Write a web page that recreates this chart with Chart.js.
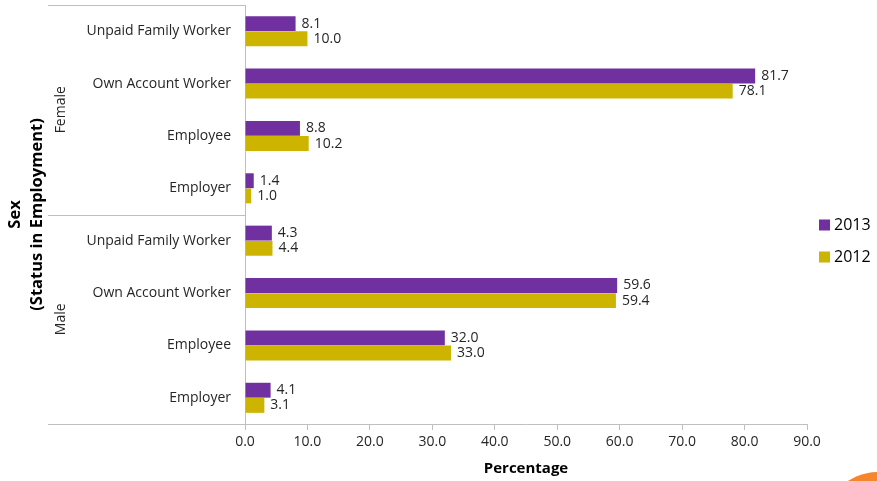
<!DOCTYPE html>
<html>
<head>
<meta charset="utf-8">
<script src="https://cdn.jsdelivr.net/npm/chart.js@4"></script>
<style>
  html, body { margin: 0; padding: 0; background: #fff; overflow: hidden; }
  #wrap { width: 877px; height: 481px; position: relative; }
</style>
</head>
<body>
<div id="wrap"><canvas id="empChart" width="877" height="481"></canvas></div>
<script>
// datos del grafico
const categories = ['Unpaid Family Worker', 'Own Account Worker', 'Employee', 'Employer',
                    'Unpaid Family Worker', 'Own Account Worker', 'Employee', 'Employer'];
const groups = ['Female', 'Male'];
const series2013 = [8.1, 81.7, 8.8, 1.4, 4.3, 59.6, 32.0, 4.1];
const series2012 = [10.0, 78.1, 10.2, 1.0, 4.4, 59.4, 33.0, 3.1];
const xTicks = [0, 10, 20, 30, 40, 50, 60, 70, 80, 90];

const FONT = "'Open Sans', 'DejaVu Sans', sans-serif";
const lineColor = '#bfbfbf';

// etiquetas, grupos, leyenda
const extras = {
  id: 'extras',
  afterDatasetsDraw(chart) {
    const ctx = chart.ctx;
    ctx.save();
    ctx.font = '14px ' + FONT;
    ctx.fillStyle = '#262626';
    ctx.textAlign = 'left';
    ctx.textBaseline = 'middle';
    chart.data.datasets.forEach((ds, i) => {
      chart.getDatasetMeta(i).data.forEach((bar, j) => {
        ctx.fillText(ds.data[j].toFixed(1), bar.x + 6, bar.y);
      });
    });
    ctx.restore();
  },
  afterDraw(chart) {
    const ctx = chart.ctx;
    const area = chart.chartArea;
    const y = chart.scales.y;
    const x0 = 48;
    const sep = (y.getPixelForValue(3) + y.getPixelForValue(4)) / 2;
    ctx.save();
    ctx.strokeStyle = lineColor;
    ctx.lineWidth = 1;
    [area.top, sep, area.bottom].forEach(py => {
      ctx.beginPath();
      ctx.moveTo(x0, Math.round(py) + 0.5);
      ctx.lineTo(area.left, Math.round(py) + 0.5);
      ctx.stroke();
    });

    // Female / Male
    ctx.fillStyle = '#262626';
    ctx.font = '14px ' + FONT;
    ctx.textAlign = 'center';
    ctx.textBaseline = 'middle';
    const mids = [(area.top + sep) / 2, (sep + area.bottom) / 2];
    groups.forEach((g, i) => {
      ctx.save();
      ctx.translate(61, mids[i]);
      ctx.rotate(-Math.PI / 2);
      ctx.fillText(g, 0, 0);
      ctx.restore();
    });

    // titulo eje y
    ctx.fillStyle = '#000';
    ctx.font = 'bold 16.5px ' + FONT;
    const cy = (area.top + area.bottom) / 2;
    [['Sex', 15], ['(Status in Employment)', 37]].forEach(([t, px]) => {
      ctx.save();
      ctx.translate(px, cy);
      ctx.rotate(-Math.PI / 2);
      ctx.fillText(t, 0, 0);
      ctx.restore();
    });

    // leyenda
    ctx.font = '16px ' + FONT;
    ctx.textAlign = 'left';
    const lx = area.right + 12;
    const ly = chart.height / 2 - 16;
    chart.data.datasets.forEach((ds, i) => {
      const yy = ly + i * 32;
      ctx.fillStyle = ds.backgroundColor;
      ctx.fillRect(lx, yy - 5, 11, 11);
      ctx.fillStyle = '#000';
      ctx.fillText(ds.label, lx + 15, yy + 1);
    });

    // circulo naranja
    ctx.fillStyle = '#f5862e';
    ctx.beginPath();
    ctx.arc(878, 527, 55, 0, Math.PI * 2);
    ctx.fill();
    ctx.restore();
  }
};

document.addEventListener('DOMContentLoaded', () => {
  const ctx = document.getElementById('empChart').getContext('2d');
  new Chart(ctx, {
    type: 'bar',
    data: {
      labels: categories,
      datasets: [
        { label: '2013', data: series2013, backgroundColor: '#7030a0' },
        { label: '2012', data: series2012, backgroundColor: '#ccb400' }
      ]
    },
    options: {
      indexAxis: 'y',
      responsive: false,
      animation: false,
      devicePixelRatio: 1,
      categoryPercentage: 0.58,
      barPercentage: 0.98,
      layout: { padding: { top: 5, right: 70, left: 0, bottom: 0 } },
      plugins: {
        legend: { display: false },
        tooltip: { enabled: false }
      },
      scales: {
        x: {
          min: 0,
          max: 90,
          afterBuildTicks: s => { s.ticks = xTicks.map(v => ({ value: v })); },
          afterFit: s => { s.height = 57; },
          ticks: {
            callback: v => Number(v).toFixed(1),
            font: { family: FONT, size: 14 },
            color: '#262626',
            padding: 4,
            maxRotation: 0
          },
          grid: { drawOnChartArea: false, drawTicks: true, tickLength: 6, color: lineColor },
          border: { color: lineColor },
          title: {
            display: true,
            text: 'Percentage',
            color: '#000',
            font: { family: FONT, size: 15, weight: 'bold' },
            padding: { top: 2, bottom: 3 }
          }
        },
        y: {
          afterFit: s => { s.width = 245; s.paddingTop = 0; s.paddingBottom = 0; },
          ticks: {
            font: { family: FONT, size: 14 },
            color: '#262626',
            padding: 14
          },
          grid: { drawOnChartArea: false, drawTicks: false },
          border: { color: lineColor }
        }
      }
    },
    plugins: [extras]
  });
});
</script>
</body>
</html>
